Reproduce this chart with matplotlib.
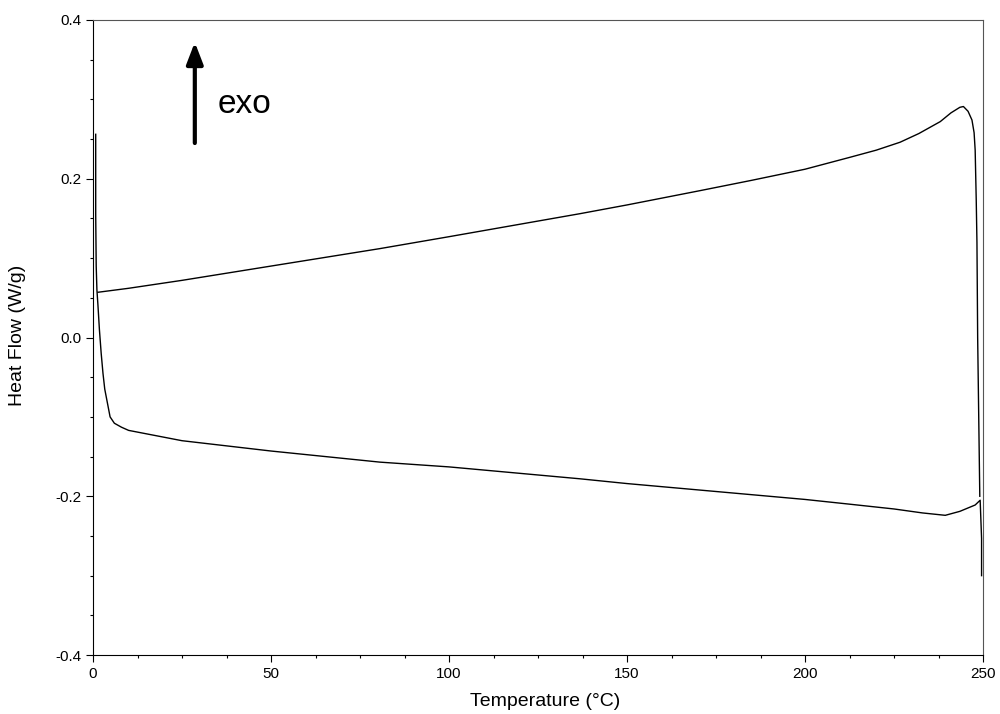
import numpy as np
import matplotlib
matplotlib.use("Agg")
import matplotlib.pyplot as plt
from matplotlib.ticker import MultipleLocator, FormatStrFormatter

plt.rcParams["font.family"] = ["Liberation Sans", "DejaVu Sans"]
plt.rcParams["axes.unicode_minus"] = False

# heating branch (lower), incl. start-up spike
heat_T = [0.76, 0.76, 0.9, 1.1, 1.4, 1.8, 2.3, 2.8, 3.3, 3.9, 4.8, 6.0, 8.0, 10, 25, 50,
          80.6, 100, 136.8, 150, 175, 200, 212.6, 225, 233, 239.4, 243.5, 247.8,
          249.2, 249.6, 249.6]
heat_HF = [0.256, 0.155, 0.09, 0.06, 0.04, 0.01, -0.02, -0.045, -0.065, -0.079, -0.100,
           -0.108, -0.113, -0.117, -0.130, -0.143, -0.157, -0.163, -0.178, -0.184,
           -0.194, -0.204, -0.210, -0.216, -0.221, -0.224, -0.219, -0.211,
           -0.205, -0.253, -0.300]

# cooling branch (upper)
cool_T = [249.1, 248.8, 248.5, 248.3, 248.1, 247.8, 247.5, 246.9, 245.8, 244.5, 243.5,
          241, 238, 232, 226.7, 220, 212.6, 200, 185, 170.5, 150, 136.8, 100, 80.6,
          50, 25, 10, 1.4]
cool_HF = [-0.200, -0.100, 0.000, 0.120, 0.173, 0.236, 0.258, 0.274, 0.285, 0.291, 0.290,
           0.283, 0.272, 0.257, 0.246, 0.236, 0.227, 0.212, 0.198, 0.185, 0.167, 0.156,
           0.127, 0.112, 0.090, 0.072, 0.062, 0.057]

fig = plt.figure(figsize=(10, 7.14), dpi=100)
ax = fig.add_axes([0.093, 0.0826, 0.89, 0.8894])

ax.plot(heat_T, heat_HF, color="black", lw=1.0)
ax.plot(cool_T, cool_HF, color="black", lw=1.0)

ax.set_xlim(0, 250)
ax.set_ylim(-0.4, 0.4)
ax.xaxis.set_major_locator(MultipleLocator(50))
ax.xaxis.set_minor_locator(MultipleLocator(12.5))
ax.yaxis.set_major_locator(MultipleLocator(0.2))
ax.yaxis.set_minor_locator(MultipleLocator(0.05))
ax.yaxis.set_major_formatter(FormatStrFormatter("%.1f"))
ax.tick_params(which="major", direction="out", length=5, width=0.8, labelsize=11)
ax.tick_params(which="minor", direction="out", length=2.5, width=0.8)
ax.tick_params(top=False, right=False, which="both")

ax.spines["left"].set_color("black")
ax.spines["bottom"].set_color("black")
ax.spines["top"].set_color("#555555")
ax.spines["right"].set_color("#555555")

ax.set_xlabel("Temperature (°C)", fontsize=14)
ax.set_ylabel("Heat Flow (W/g)", fontsize=14)
ax.xaxis.set_label_coords(0.508, -0.06)
ax.yaxis.set_label_coords(-0.075, 0.504)

ax.annotate("", xy=(28.6, 0.372), xytext=(28.6, 0.245),
            arrowprops=dict(arrowstyle="-|>,head_width=0.25,head_length=0.65",
                            lw=3, color="black", mutation_scale=20,
                            shrinkA=0, shrinkB=0))
ax.text(35.1, 0.283, "exo", fontsize=24, ha="left", va="baseline")

fig.savefig("out.png", dpi=100)
